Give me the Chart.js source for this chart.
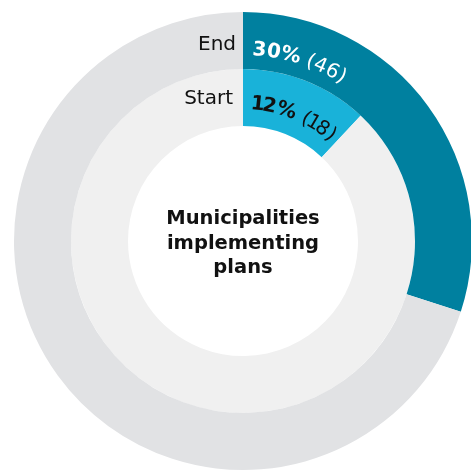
<!DOCTYPE html>
<html>
<head>
<meta charset="utf-8">
<script src="https://cdn.jsdelivr.net/npm/chart.js@4"></script>
<style>
  html, body { margin: 0; padding: 0; background: #fff; overflow: hidden; }
  #wrap { position: relative; width: 486px; height: 471px; }
</style>
</head>
<body>
<div id="wrap"><canvas id="ringChart"></canvas></div>
<script>
'use strict';

// rings, outer first
const ringLabels = ['End', 'Start'];
const ringPct    = [30, 12];
const ringCount  = [46, 18];
const centerText = ['Municipalities', 'implementing', 'plans'];

const fillColors = ['#00809f', '#19b2d9'];
const restColors = ['#e1e2e4', '#f0f0f0'];
const valueColors = ['#ffffff', '#111111'];

const FONT = '"DejaVu Sans", sans-serif';

// text that follows the arc, one glyph at a time
// (the "1" gets a narrower advance, like the proportional figures of the original)
function arcText(ctx, cx, cy, r, theta, parts) {
  parts.forEach(p => {
    ctx.font = p.font;
    ctx.fillStyle = p.color;
    for (const ch of p.text) {
      let w = ctx.measureText(ch).width;
      if (ch === '1') w *= 0.62;
      const a = theta + (w / 2) / r;
      ctx.save();
      ctx.translate(cx + r * Math.sin(a), cy - r * Math.cos(a));
      ctx.rotate(a);
      ctx.textAlign = 'center';
      ctx.textBaseline = 'alphabetic';
      ctx.fillText(ch, 0, 0);
      ctx.restore();
      theta += w / r;
    }
  });
}

const labelsPlugin = {
  id: 'ringLabels',
  afterDraw(chart) {
    const ctx = chart.ctx;
    ringLabels.forEach((name, i) => {
      const arc = chart.getDatasetMeta(i).data[0];
      const cx = arc.x, cy = arc.y;
      const r = arc.innerRadius + 14 + 3 * i;

      ctx.save();
      ctx.font = '20px ' + FONT;
      ctx.fillStyle = '#111';
      ctx.textAlign = 'right';
      ctx.textBaseline = 'alphabetic';
      ctx.fillText(name, cx - 7 - 3 * i, cy - arc.innerRadius - 19 - 3 * i);

      arcText(ctx, cx, cy, r, (9 + i) / r, [
        { text: ringPct[i] + '%', font: 'bold 20px ' + FONT, color: valueColors[i] },
        { text: ' (' + ringCount[i] + ')', font: '20px ' + FONT, color: valueColors[i] }
      ]);

      if (i === 0) {
        ctx.font = 'bold 19.5px ' + FONT;
        ctx.fillStyle = '#111';
        ctx.textAlign = 'center';
        centerText.forEach((t, k) => ctx.fillText(t, cx, cy - 17 + k * 24.5));
      }
      ctx.restore();
    });
  }
};

new Chart(document.getElementById('ringChart'), {
  type: 'doughnut',
  data: {
    labels: ['Implementing', 'Not implementing'],
    datasets: ringPct.map((v, i) => ({
      label: ringLabels[i],
      data: [v, 100 - v],
      backgroundColor: [fillColors[i], restColors[i]],
      borderWidth: 0
    }))
  },
  options: {
    responsive: true,
    maintainAspectRatio: false,
    animation: false,
    cutout: 115,
    layout: { padding: { left: 14, right: 14, top: 12, bottom: 1 } },
    plugins: { legend: { display: false }, tooltip: { enabled: false } }
  },
  plugins: [labelsPlugin]
});
</script>
</body>
</html>
